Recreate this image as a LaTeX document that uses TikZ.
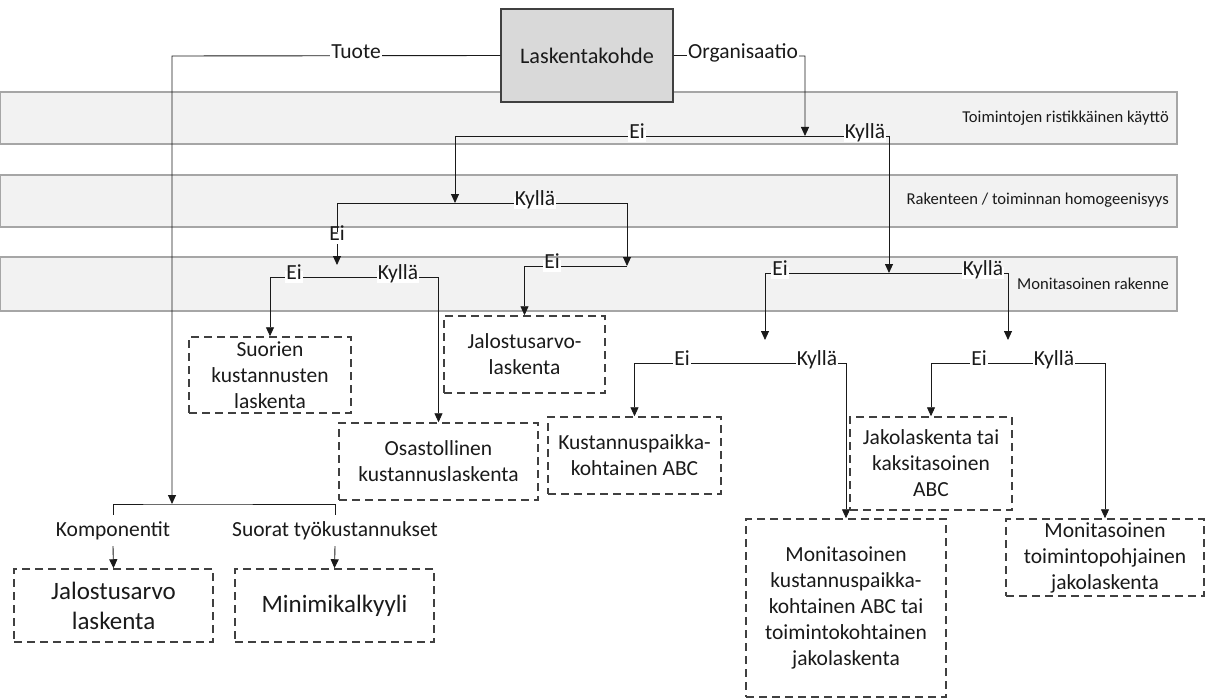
\documentclass[tikz,border=0pt]{standalone}
\usepackage{fontspec}
\setmainfont{Carlito}
\usetikzlibrary{arrows.meta}
\definecolor{bandfill}{HTML}{F2F2F2}
\definecolor{bandline}{HTML}{A6A6A6}
\definecolor{topfill}{HTML}{D9D9D9}
\definecolor{boxline}{HTML}{404040}
\definecolor{ink}{HTML}{1A1A1A}
\newcommand\mainsize{\fontsize{21.5}{26}\selectfont}
\newcommand\rootsize{\fontsize{22.2}{26}\selectfont}
\newcommand\bandsize{\fontsize{16.6}{19}\selectfont}
\newcommand\bigsize{\fontsize{25}{30}\selectfont}
\begin{document}
\begin{tikzpicture}[x=1pt,y=-1pt,
  band/.style={draw=bandline, fill=bandfill, line width=1.2pt},
  bandlabel/.style={anchor=east, font=\bandsize, text=ink, inner sep=0pt},
  topbox/.style={draw=boxline, fill=topfill, line width=1.5pt,
    minimum width=172pt, minimum height=93pt, font=\rootsize, text=ink},
  method/.style={draw=boxline, line width=1.5pt, dash pattern=on 8pt off 5pt,
    align=center, font=\mainsize, text=ink, inner sep=0pt},
  conn/.style={draw=ink, line width=0.9pt},
  arr/.style={conn, -{Triangle[width=8pt,length=9pt]}},
  lab/.style={fill=white, inner sep=1pt, font=\mainsize, text=ink,
    text height=0.72em, text depth=0.22em},
  branch/.style={inner sep=0pt, minimum height=31pt, font=\mainsize, text=ink}
]
\useasboundingbox (0,0) rectangle (1213,698);

% decision bands
\draw[band] (0.5,92) rectangle (1177,144);
\draw[band] (0.5,175) rectangle (1177,227);
\draw[band] (0.5,257) rectangle (1177,311);
\node[bandlabel] (b1) at (1169,118) {Toimintojen ristikkäinen käyttö};
\node[bandlabel] (b2) at (1169,200) {Rakenteen / toiminnan homogeenisyys};
\node[bandlabel] (b3) at (1169,284) {Monitasoinen rakenne};

% root
\node[topbox] (lk) at (587,55.5) {Laskentakohde};

% costing methods
\node[method, minimum width=162pt, minimum height=76pt] (suo) at (270,375) {Suorien\\kustannusten\\laskenta};
\node[method, minimum width=161pt, minimum height=77pt] (jal1) at (524.5,354.5) {Jalostusarvo-\\laskenta};
\node[method, minimum width=199pt, minimum height=77pt] (osa) at (438.5,461.5) {Osastollinen\\kustannuslaskenta};
\node[method, minimum width=173pt, minimum height=77pt] (kus) at (634.5,455.5) {Kustannuspaikka-\\kohtainen ABC};
\node[method, minimum width=162pt, minimum height=93pt] (jak) at (931,463.5) {Jakolaskenta tai\\kaksitasoinen\\ABC};
\node[method, minimum width=200pt, minimum height=178pt] (mon) at (846,608) {Monitasoinen\\kustannuspaikka-\\kohtainen ABC tai\\toimintokohtainen\\jakolaskenta};
\node[method, minimum width=198pt, minimum height=77pt] (mtp) at (1105,557.5) {Monitasoinen\\toimintopohjainen\\jakolaskenta};
\node[method, font=\bigsize, minimum width=199pt, minimum height=73pt] (jal2) at (113.5,605.5) {Jalostusarvo\\laskenta};
\node[method, font=\bigsize, minimum width=199pt, minimum height=73pt] (mini) at (334.5,605.5) {Minimikalkyyli};

% junction points
\coordinate (tc) at (172,56);
\coordinate (ts) at (172,504);
\coordinate (oc) at (805,56);
\coordinate (r1) at (805,136);
\coordinate (r1l) at (455,136);
\coordinate (r1r) at (889,136);
\coordinate (r2) at (455,203);
\coordinate (r2l) at (337,203);
\coordinate (r2r) at (627,203);
\coordinate (r2e) at (337,265);
\coordinate (r3) at (337,277);
\coordinate (r3j) at (627,266);
\coordinate (r4) at (889,273);
\coordinate (r4l) at (765,340);
\coordinate (r4r) at (1008,340);
\coordinate (r5) at (765,363);
\coordinate (r6) at (1008,363);

% product branch
\draw[arr] (lk.west) -- (tc) -- (ts);
\node[branch] (kom) at (113,530.5) {Komponentit};
\node[branch] (sty) at (335,530.5) {Suorat työkustannukset};
\draw[conn] (kom.north) |- (ts) -| (sty.north);
\draw[arr] (kom.south) -- (jal2.north);
\draw[arr] (sty.south) -- (mini.north);

% organisation branch
\draw[arr] (lk.east) -- (oc) -- (r1);
\draw[conn] (r1l) -- (r1r);
\draw[arr] (r1l) -- (r2);
\draw[arr] (r1r) -- (r4);

\draw[conn] (r2l) -- (r2r);
\draw[arr] (r2l) -- (r2e);
\draw[arr] (r2r) -- (r3j);
\draw[arr] (r3j) -| (jal1.north);

\draw[arr] (r3) -| (suo.north);
\draw[arr] (r3) -| (osa.north);

\draw[arr] (r4) -| (r4l);
\draw[arr] (r4) -| (r4r);

\draw[arr] (r5) -| (kus.north);
\draw[arr] (r5) -| (mon.north);
\draw[arr] (r6) -| (jak.north);
\draw[arr] (r6) -| (mtp.north);

% connector labels
\node[lab] (lt) at (356,56) {Tuote};
\node[lab] (lo) at (743,56) {Organisaatio};
\node[lab] (l1e) at (637,136) {Ei};
\node[lab] (l1k) at (865,136) {Kyllä};
\node[lab] (l2k) at (535,203) {Kyllä};
\node[lab] (l2e) at (337,238) {Ei};
\node[lab] (l3e) at (294,277) {Ei};
\node[lab] (l3k) at (398,277) {Kyllä};
\node[lab] (l3j) at (552,266) {Ei};
\node[lab] (l4e) at (780,273) {Ei};
\node[lab] (l4k) at (983,273) {Kyllä};
\node[lab] (l5e) at (682,363) {Ei};
\node[lab] (l5k) at (817,363) {Kyllä};
\node[lab] (l6e) at (979,363) {Ei};
\node[lab] (l6k) at (1054,363) {Kyllä};
\end{tikzpicture}
\end{document}
